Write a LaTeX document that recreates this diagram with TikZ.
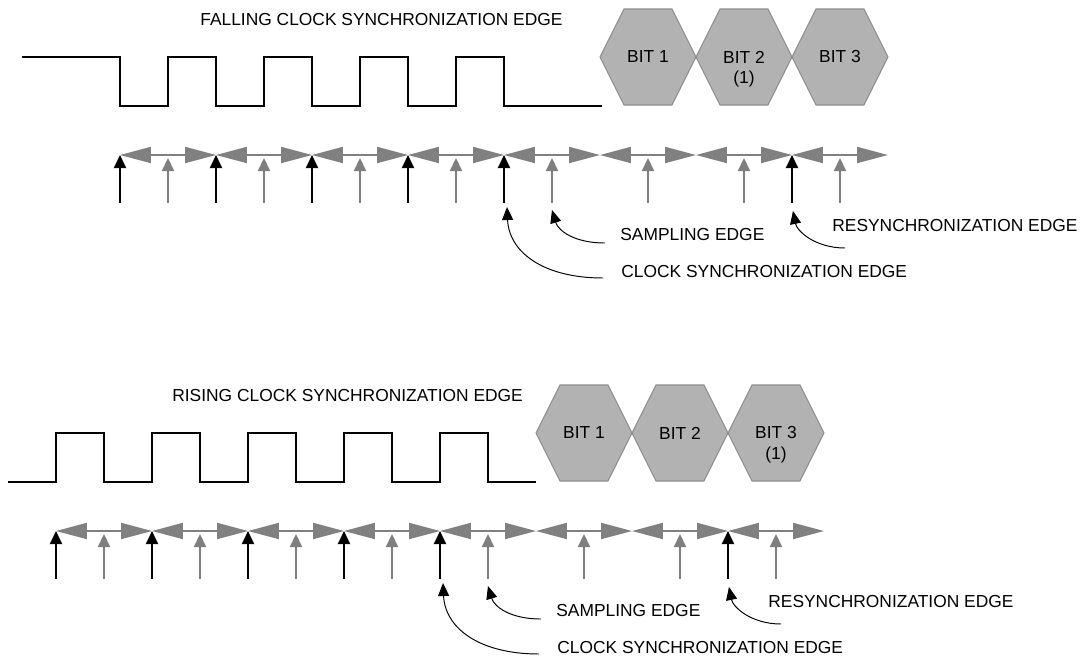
\documentclass[tikz,border=0pt]{standalone}
\usepackage{fontspec}
\setmainfont{Liberation Sans}
\usetikzlibrary{arrows.meta,calc}
\definecolor{RulerGray}{RGB}{128,128,128}
\definecolor{HexFill}{RGB}{178,178,178}
\definecolor{HexLine}{RGB}{140,140,140}
\tikzset{
  wave/.style={line width=0.9pt,draw=black},
  ruler/.style={line width=1.1pt,draw=RulerGray,{Triangle[length=0.62cm,width=0.32cm]}-{Triangle[length=0.62cm,width=0.32cm]}},
  syncarrow/.style={line width=1.1pt,draw=black,-{Triangle[length=0.26cm,width=0.24cm]}},
  samparrow/.style={syncarrow,draw=RulerGray},
  note/.style={line width=0.55pt,-{Triangle[length=0.26cm,width=0.22cm]}},
  lbl/.style={font=\fontsize{9.9}{12}\selectfont,inner sep=0pt,anchor=west},
  hexagon/.style={fill=HexFill,draw=HexLine,line width=0.6pt},
}
\begin{document}
\begin{tikzpicture}[x=0.02cm,y=-0.02cm]
  \useasboundingbox (0,0) rectangle (1083,660);
  % titles and clock waveforms
  \node[lbl] (ttop) at (200,20) {FALLING CLOCK SYNCHRONIZATION EDGE};
  \node[lbl] (tbot) at (172,396) {RISING CLOCK SYNCHRONIZATION EDGE};
  \draw[wave] (22,57) \foreach \k in {0,...,3}{ -- (120+96*\k,57) -- ++(0,49) -- ++(48,0) -- ++(0,-49)} -- (504,57) -- (504,106) -- (602,106);
  \draw[wave] (8,482) \foreach \k in {0,...,4}{ -- (56+96*\k,482) -- ++(0,-49) -- ++(48,0) -- ++(0,49)} -- (536,482);
  % both panels: bits, time quanta, edges
  \foreach \p/\dx/\dy/\m in {a/0/0/2,b/-64/376/3} {
    \begin{scope}[shift={(\dx,\dy)}]
      \foreach \n in {1,2,3} {
        \draw[hexagon] (504+96*\n,57) -- ++(24,-48) -- ++(48,0) -- ++(24,48) -- ++(-24,48) -- ++(-48,0) -- cycle;
        \node[lbl,anchor=center] (hex\p\n) at (552+96*\n,57) {BIT \n};
      }
      \node[lbl,anchor=center] (mark\p) at (552+96*\m,79) {(1)};
      \foreach \k in {0,...,8} \coordinate (t\p\k) at (120+96*\k,155);
      \foreach \k [count=\j] in {0,...,7} \draw[ruler] (t\p\k) -- (t\p\j);
      \foreach \k in {0,1,2,3,4,7} {
        \coordinate (s\p\k) at (120+96*\k,203);
        \draw[syncarrow] (s\p\k) -- (t\p\k);
      }
      \foreach \k in {0,...,7} {
        \coordinate (g\p\k) at (168+96*\k,203);
        \coordinate (h\p\k) at (168+96*\k,158);
        \draw[samparrow] (g\p\k) -- (h\p\k);
      }
      \node[lbl] (samp\p) at (620,235) {SAMPLING EDGE};
      \node[lbl] (clk\p) at (621,272) {CLOCK SYNCHRONIZATION EDGE};
      \node[lbl] (resync\p) at (832,226) {RESYNCHRONIZATION EDGE};
      \draw[note] ($(clk\p.west)+(-18,6)$) .. controls +(-60,0) and +(2,45) .. ($(s\p4)+(3,4)$);
      \draw[note] ($(samp\p.west)+(-15,8)$) .. controls +(-32,0) and +(6,20) .. ($(g\p4)+(0,7)$);
      \draw[note] ($(resync\p.west)+(13,22)$) .. controls +(-30,0) and +(4,20) .. ($(s\p7)+(1,8)$);
    \end{scope}
  }
\end{tikzpicture}
\end{document}
